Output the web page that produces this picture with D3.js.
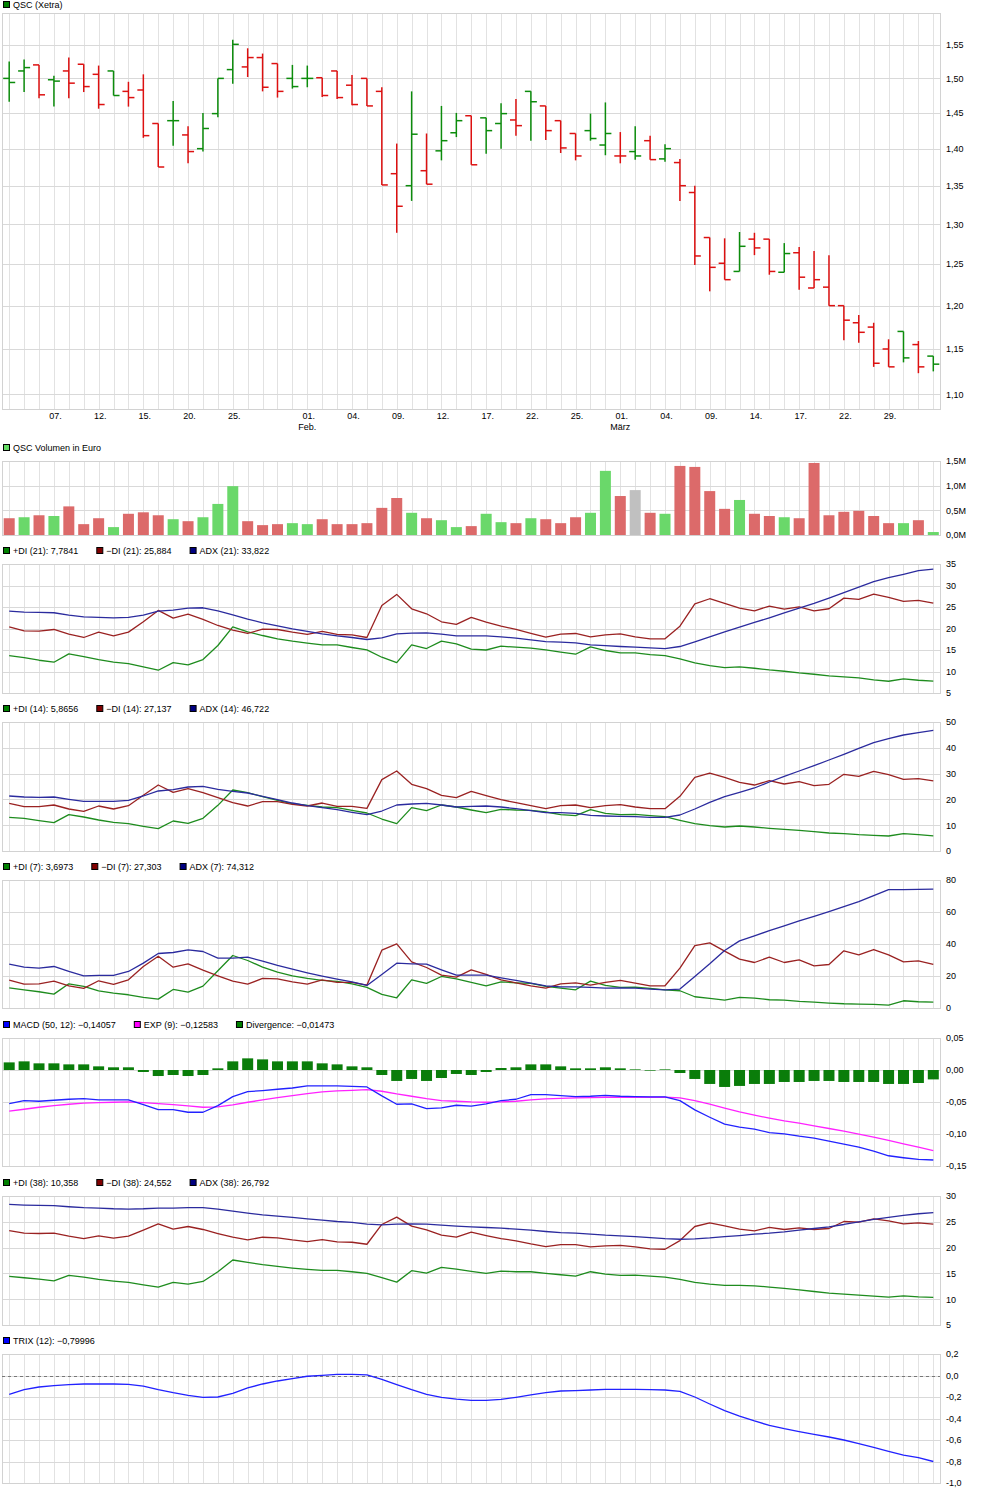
<!DOCTYPE html>
<html><head><meta charset="utf-8">
<script src="https://cdn.jsdelivr.net/npm/d3@7/dist/d3.min.js"></script>
<style>
body{margin:0;background:#fff;}
svg text{font-family:"Liberation Sans",Arial,sans-serif;font-size:9px;fill:#000;}
</style></head><body>
<svg id="c" width="981" height="1493"></svg>
<script>
// ---------- DATA ----------
const tickIndex  = [3,6,9,12,15,20,23,26,29,32,35,38,41,44,47,50,53,56,59];
const tickLabels = ["07.","12.","15.","20.","25.","01.","04.","09.","12.","17.","22.","25.","01.","04.","09.","14.","17.","22.","29."];
const tickMonths = ["","","","","","Feb.","","","","","","","März","","","","","",""];

const open  = [1.500,1.511,1.520,1.498,1.511,1.521,1.506,1.511,1.481,1.483,1.435,1.439,1.419,1.400,1.449,1.513,1.517,1.531,1.522,1.500,1.500,1.501,1.511,1.490,1.500,1.481,1.366,1.350,1.370,1.397,1.422,1.446,1.443,1.435,1.440,1.481,1.460,1.439,1.421,1.425,1.405,1.390,1.396,1.411,1.386,1.381,1.341,1.283,1.251,1.241,1.281,1.281,1.240,1.264,1.221,1.222,1.200,1.180,1.175,1.150,1.170,1.155,1.142];
const high  = [1.525,1.528,1.520,1.504,1.531,1.521,1.519,1.511,1.495,1.506,1.435,1.467,1.431,1.450,1.500,1.558,1.545,1.537,1.522,1.520,1.519,1.501,1.511,1.505,1.500,1.487,1.407,1.481,1.421,1.460,1.450,1.446,1.443,1.464,1.470,1.481,1.460,1.439,1.421,1.449,1.465,1.423,1.431,1.418,1.406,1.386,1.350,1.283,1.282,1.290,1.289,1.281,1.276,1.271,1.266,1.261,1.200,1.189,1.180,1.161,1.170,1.159,1.142];
const low   = [1.466,1.480,1.471,1.459,1.471,1.480,1.456,1.475,1.459,1.415,1.375,1.404,1.380,1.396,1.444,1.492,1.502,1.481,1.472,1.485,1.487,1.473,1.470,1.461,1.460,1.351,1.289,1.330,1.352,1.384,1.416,1.378,1.393,1.400,1.418,1.411,1.412,1.394,1.384,1.411,1.391,1.380,1.385,1.385,1.382,1.330,1.249,1.217,1.231,1.241,1.261,1.237,1.240,1.219,1.221,1.200,1.160,1.157,1.130,1.130,1.135,1.123,1.125];
const close = [1.494,1.516,1.476,1.496,1.493,1.488,1.462,1.475,1.472,1.418,1.375,1.439,1.396,1.428,1.500,1.551,1.531,1.487,1.481,1.488,1.500,1.475,1.472,1.462,1.460,1.351,1.323,1.420,1.352,1.411,1.439,1.378,1.425,1.449,1.432,1.466,1.425,1.401,1.390,1.414,1.421,1.390,1.390,1.385,1.400,1.350,1.260,1.246,1.231,1.272,1.270,1.241,1.263,1.234,1.231,1.200,1.183,1.169,1.134,1.130,1.140,1.130,1.133];
// g = up (green), r = down (red), n = unchanged (grey)
const priceDir = ("ggrgrrrgrr" + "rgrgggrrrg" + "grrrrrrgrg" + "grggrgrrrg" + "grgrgrrrrg" + "rrgrrrrrrr" + "grg").split("");
const volume = [0.34,0.36,0.40,0.385,0.58,0.22,0.34,0.16,0.43,0.46,0.40,0.32,0.28,0.36,0.63,0.99,0.28,0.20,0.22,0.24,0.22,0.32,0.22,0.22,0.24,0.55,0.75,0.45,0.34,0.30,0.16,0.18,0.43,0.26,0.24,0.34,0.32,0.24,0.36,0.45,1.30,0.79,0.91,0.45,0.43,1.40,1.38,0.89,0.53,0.71,0.43,0.385,0.36,0.34,1.46,0.40,0.47,0.49,0.385,0.24,0.24,0.30,0.06];
const volDir = ("rgrgrrrgrr" + "rgrgggrrrg" + "grrrrrrgrg" + "grggrgrrrg" + "grnrgrrrrg" + "rrgrrrrrrr" + "grg").split("");

const plusDI21  = [13.71,13.24,12.62,12.16,14.10,13.48,12.78,12.16,11.85,11.07,10.30,12.08,11.53,12.78,16.04,20.39,19.23,18.37,17.60,17.05,16.59,16.20,16.20,15.58,15.03,13.32,12.08,16.20,15.34,17.05,16.43,15.19,15.00,15.89,15.65,15.45,15.03,14.49,14.02,15.73,14.88,14.33,14.33,13.94,13.71,12.93,12.00,11.38,10.91,11.07,10.76,10.37,10.06,9.67,9.36,8.97,8.74,8.50,8.04,7.73,8.27,7.96,7.78];
const minusDI21 = [20.39,19.46,19.38,19.77,18.68,17.91,19.15,18.29,19.15,21.56,24.20,22.41,23.34,22.10,20.70,19.62,18.84,19.85,19.77,19.15,18.61,19.31,18.61,18.53,17.91,25.37,27.93,24.59,23.42,21.56,20.94,22.57,21.48,20.55,19.77,18.84,17.98,18.68,18.84,18.06,18.53,18.76,18.06,17.60,17.60,20.55,25.75,26.92,25.83,24.74,24.12,25.21,24.51,25.05,24.12,24.59,27.07,26.76,28.01,27.23,26.30,26.53,25.88];
const adx21     = [24.04,23.81,23.73,23.66,23.11,22.72,22.57,22.49,22.57,23.11,24.04,24.28,24.74,24.82,24.12,23.19,22.18,21.32,20.63,19.93,19.31,18.76,18.29,17.91,17.44,17.83,18.76,18.92,18.99,18.68,18.29,18.29,18.29,18.06,17.75,17.36,16.97,16.82,16.66,16.20,16.04,15.81,15.65,15.50,15.34,15.81,16.90,18.06,19.23,20.31,21.40,22.49,23.66,24.74,25.83,27.07,28.32,29.64,30.88,31.81,32.59,33.45,33.82];

const plusDI14  = [13.05,12.66,11.76,10.98,14.08,13.18,12.02,11.11,10.59,9.56,8.66,11.63,10.72,12.66,17.70,23.64,22.61,21.06,19.64,18.35,17.70,17.05,16.80,15.76,14.73,12.40,10.59,16.80,15.63,17.83,17.05,15.89,14.86,16.15,15.89,15.76,15.12,14.08,13.70,16.02,14.60,14.08,14.21,13.70,13.31,11.89,10.59,9.81,9.30,9.69,9.30,8.79,8.40,8.01,7.49,6.98,6.72,6.33,6.07,5.81,6.72,6.33,5.87];
const minusDI14 = [18.48,17.18,17.18,17.83,16.28,15.37,17.44,16.28,17.57,21.58,25.58,22.74,24.16,22.61,20.67,18.73,17.44,19.12,19.12,18.09,17.44,18.60,17.31,17.31,16.54,27.65,31.01,25.84,24.16,21.58,20.67,23.13,21.45,19.90,18.73,17.57,16.41,17.57,17.83,16.80,17.57,17.96,17.05,16.41,16.41,21.19,28.55,30.23,28.55,26.61,25.58,27.26,25.97,26.87,25.32,25.84,29.72,28.94,30.88,29.59,27.78,28.04,27.14];
const adx14     = [21.32,20.93,20.80,20.93,20.03,19.25,19.25,19.25,19.64,21.32,23.26,23.77,24.81,25.06,23.90,23.13,22.48,21.19,19.90,18.60,17.57,16.80,16.02,14.99,14.08,15.50,17.83,18.22,18.48,17.83,17.05,17.31,17.44,17.05,16.41,15.63,14.86,14.86,14.60,13.82,13.57,13.44,13.31,13.05,13.05,13.95,16.28,18.86,21.06,22.74,24.42,26.74,28.94,31.01,33.07,35.27,37.47,39.79,41.99,43.54,44.96,45.87,46.72];

const plusDI7   = [12.64,11.39,10.15,8.69,15.14,13.47,10.77,9.31,8.27,6.61,5.57,11.60,9.94,13.68,23.24,32.81,29.69,25.53,22.41,20.12,18.46,17.21,16.59,15.14,12.85,8.48,6.40,17.63,15.34,19.71,18.25,15.97,13.89,16.38,15.76,15.34,13.47,12.43,11.39,16.80,14.10,12.85,13.06,12.22,11.39,10.77,7.03,5.99,4.95,6.61,6.20,5.16,4.95,4.12,3.70,3.08,2.66,2.45,2.25,1.83,4.53,3.91,3.70];
const minusDI7  = [17.42,14.93,15.14,16.80,13.89,12.22,17.01,14.72,17.63,25.95,32.39,25.53,27.61,23.66,20.12,16.80,14.93,18.46,18.25,16.38,14.93,17.63,15.97,15.97,14.30,36.13,40.08,28.86,25.32,20.54,19.29,23.87,20.96,17.63,15.76,13.89,12.43,15.14,15.76,14.30,15.97,17.21,15.55,13.89,13.89,24.91,39.04,40.71,35.51,30.52,28.44,31.77,28.44,30.10,26.36,27.19,35.72,33.22,36.55,33.22,28.86,29.48,27.30];
const adx7      = [27.40,25.53,24.91,25.95,22.83,20.12,20.33,20.33,22.83,28.02,34.05,34.68,36.34,35.30,31.14,31.14,31.77,29.27,26.57,24.28,22.00,19.92,18.05,16.38,14.10,20.96,28.02,27.61,27.40,23.87,20.54,20.54,20.54,18.88,17.21,15.55,13.89,13.26,13.26,12.85,12.43,12.64,12.43,11.81,11.39,11.81,19.71,27.61,35.93,41.95,45.07,48.40,51.31,54.43,57.34,60.25,63.37,66.49,70.23,73.97,73.97,74.18,74.31];

const macdLine   = [-0.0525,-0.0478,-0.0488,-0.0473,-0.0457,-0.0447,-0.0468,-0.0468,-0.0468,-0.0540,-0.0618,-0.0618,-0.0660,-0.0660,-0.0556,-0.0416,-0.0338,-0.0322,-0.0301,-0.0281,-0.0249,-0.0249,-0.0249,-0.0255,-0.0265,-0.0405,-0.0535,-0.0530,-0.0603,-0.0592,-0.0551,-0.0566,-0.0530,-0.0478,-0.0457,-0.0384,-0.0384,-0.0400,-0.0416,-0.0410,-0.0395,-0.0410,-0.0416,-0.0421,-0.0421,-0.0478,-0.0623,-0.0738,-0.0847,-0.0894,-0.0925,-0.0977,-0.0997,-0.1034,-0.1065,-0.1112,-0.1158,-0.1205,-0.1268,-0.1340,-0.1371,-0.1397,-0.1406];
const signalLine = [-0.0644,-0.0613,-0.0582,-0.0556,-0.0535,-0.0519,-0.0509,-0.0504,-0.0499,-0.0509,-0.0525,-0.0540,-0.0561,-0.0582,-0.0577,-0.0545,-0.0504,-0.0468,-0.0431,-0.0400,-0.0369,-0.0343,-0.0327,-0.0317,-0.0306,-0.0332,-0.0374,-0.0410,-0.0447,-0.0478,-0.0488,-0.0499,-0.0504,-0.0499,-0.0488,-0.0468,-0.0452,-0.0442,-0.0436,-0.0431,-0.0426,-0.0426,-0.0426,-0.0426,-0.0426,-0.0436,-0.0478,-0.0535,-0.0597,-0.0655,-0.0706,-0.0753,-0.0795,-0.0831,-0.0873,-0.0914,-0.0956,-0.1003,-0.1049,-0.1101,-0.1155,-0.1205,-0.1258];
const divergence = [0.0119,0.0135,0.0104,0.0104,0.0088,0.0088,0.0057,0.0042,0.0042,-0.0031,-0.0094,-0.0078,-0.0094,-0.0078,0.0026,0.0135,0.0182,0.0166,0.0135,0.0135,0.0135,0.0104,0.0088,0.0057,0.0042,-0.0078,-0.0171,-0.0140,-0.0171,-0.0125,-0.0062,-0.0078,-0.0031,0.0031,0.0042,0.0088,0.0088,0.0057,0.0026,0.0026,0.0042,0.0026,0.0010,-0.0010,0.0010,-0.0047,-0.0140,-0.0218,-0.0265,-0.0249,-0.0218,-0.0218,-0.0187,-0.0187,-0.0171,-0.0171,-0.0187,-0.0187,-0.0187,-0.0218,-0.0218,-0.0203,-0.0147];

const plusDI38  = [14.42,14.16,13.90,13.57,14.61,14.29,13.83,13.51,13.25,12.79,12.34,13.25,12.92,13.44,15.32,17.60,17.14,16.69,16.36,16.04,15.78,15.58,15.58,15.32,15.00,14.16,13.31,15.52,15.06,16.17,15.84,15.39,15.00,15.45,15.32,15.32,15.00,14.74,14.48,15.32,14.87,14.61,14.68,14.48,14.29,13.83,13.25,12.92,12.66,12.66,12.60,12.34,12.08,11.82,11.49,11.17,10.97,10.78,10.58,10.39,10.65,10.45,10.36];
const minusDI38 = [23.31,22.79,22.73,22.79,22.21,21.75,22.27,21.82,22.21,23.38,24.61,23.57,24.09,23.51,22.73,22.01,21.49,22.01,21.88,21.49,21.17,21.56,21.10,21.04,20.65,24.48,25.91,24.16,23.44,22.40,22.01,22.99,22.34,21.75,21.30,20.71,20.19,20.58,20.58,20.13,20.32,20.45,20.13,19.74,19.68,21.36,24.09,24.81,24.22,23.57,23.25,23.90,23.51,23.83,23.51,23.70,25.06,24.94,25.58,25.19,24.61,24.81,24.55];
const adx38     = [28.38,28.25,28.18,28.12,27.92,27.73,27.66,27.53,27.47,27.53,27.66,27.66,27.73,27.73,27.47,27.08,26.69,26.36,26.10,25.84,25.58,25.32,25.06,24.87,24.55,24.42,24.55,24.61,24.55,24.35,24.16,24.03,23.90,23.77,23.57,23.38,23.12,22.92,22.79,22.60,22.40,22.27,22.14,21.95,21.75,21.62,21.69,21.88,22.14,22.34,22.60,22.79,23.05,23.38,23.70,24.03,24.48,25.00,25.45,25.84,26.23,26.56,26.79];

const trix = [-0.175,-0.132,-0.107,-0.095,-0.085,-0.079,-0.079,-0.079,-0.082,-0.098,-0.132,-0.160,-0.184,-0.203,-0.200,-0.166,-0.116,-0.079,-0.051,-0.029,-0.007,0.002,0.011,0.011,0.005,-0.036,-0.085,-0.132,-0.175,-0.203,-0.219,-0.231,-0.231,-0.222,-0.203,-0.181,-0.160,-0.144,-0.141,-0.135,-0.129,-0.129,-0.129,-0.132,-0.135,-0.147,-0.200,-0.265,-0.327,-0.377,-0.423,-0.464,-0.495,-0.522,-0.547,-0.572,-0.600,-0.634,-0.668,-0.705,-0.740,-0.764,-0.800];

const priceTicks = [1.10,1.15,1.20,1.25,1.30,1.35,1.40,1.45,1.50,1.55];
const volTicks = [0,0.5,1.0,1.5];
const di21Ticks = [5,10,15,20,25,30,35];
const di14Ticks = [0,10,20,30,40,50];
const di7Ticks = [0,20,40,60,80];
const macdTicks = [-0.15,-0.10,-0.05,0,0.05];
const di38Ticks = [5,10,15,20,25,30];
const trixTicks = [-1.0,-0.8,-0.6,-0.4,-0.2,0,0.2];

// ---------- DRAWING ----------
const svg = d3.select("#c");
const N = close.length;
const L = 2, R = 940;
const x = d3.scaleLinear().domain([0, N - 1]).range([9.2, 933.3]);
const cx = i => Math.round(x(i)) + 0.5;
const crisp = v => Math.round(v) + 0.5;
const comma = (v, d) => (v < 0 ? "-" : "") + Math.abs(v).toFixed(d).replace(".", ",");

const C = {
  gridV: "#e2e2e2", gridH: "#d9d9d9", border: "#d2d2d2",
  up: "#0c8c0c", down: "#dd1010",
  volUp: "#6ad86a", volDown: "#dc6a6a", volFlat: "#c0c0c0",
  pdi: "#1e8c1e", mdi: "#9a2222", adx: "#2b2b9e",
  pdiL: "#008000", mdiL: "#800000", adxL: "#000080"
};

function panel(top, bottom, y, ticks, fmt) {
  const g = svg.append("g");
  g.append("g").selectAll("line").data(d3.range(N)).join("line")
    .attr("x1", cx).attr("x2", cx).attr("y1", top).attr("y2", bottom)
    .attr("stroke", C.gridV).attr("stroke-width", 1);
  g.append("g").selectAll("line").data(ticks).join("line")
    .attr("x1", L).attr("x2", R).attr("y1", d => crisp(y(d))).attr("y2", d => crisp(y(d)))
    .attr("stroke", C.gridH).attr("stroke-width", 1);
  g.append("rect").attr("x", L + 0.5).attr("y", crisp(top)).attr("width", R - L)
    .attr("height", Math.round(bottom) - Math.round(top))
    .attr("fill", "none").attr("stroke", C.border);
  const ax = d3.axisRight(y).tickValues(ticks).tickSize(0).tickPadding(6).tickFormat(fmt);
  svg.append("g").attr("transform", `translate(${R},0)`).call(ax)
    .call(a => a.select(".domain").remove());
  return g;
}

function legend(yc, items) {
  let xx = 3;
  items.forEach(it => {
    svg.append("rect").attr("x", xx + 0.5).attr("y", Math.round(yc) - 3.5)
      .attr("width", 6).attr("height", 6).attr("fill", it.color).attr("stroke", "#000");
    const t = svg.append("text").attr("x", xx + 10).attr("y", yc).attr("dy", "0.35em").text(it.text);
    xx = xx + 10 + t.node().getComputedTextLength() + 18;
  });
}

function lineSeries(data, y, color, w) {
  svg.append("path").datum(data)
    .attr("d", d3.line().x((d, i) => x(i)).y(d => y(d)))
    .attr("fill", "none").attr("stroke", color).attr("stroke-width", w || 1.3)
    .attr("stroke-linejoin", "round");
}

// ---- Price panel ----
const yP = d3.scaleLog().domain([1.0842, 1.599]).range([409, 13.3]);
panel(13, 409, yP, priceTicks, d => comma(d, 2));
legend(5, [{ color: "#008000", text: "QSC (Xetra)" }]);
const xa = d3.axisBottom(x).tickValues(tickIndex).tickSize(0).tickPadding(4)
  .tickFormat((d, i) => tickLabels[i]);
svg.append("g").attr("transform", "translate(1,409)").call(xa)
  .call(a => a.select(".domain").remove());
svg.append("g").selectAll("text").data(tickIndex.filter((d, i) => tickMonths[i]))
  .join("text").attr("x", d => x(d)).attr("y", 430).attr("text-anchor", "middle")
  .text(d => tickMonths[tickIndex.indexOf(d)]);

const bars = svg.append("g").selectAll("g").data(d3.range(N)).join("g")
  .attr("stroke", i => priceDir[i] === "r" ? C.down : C.up).attr("stroke-width", 1.5);
bars.append("line").attr("x1", i => x(i)).attr("x2", i => x(i))
  .attr("y1", i => yP(high[i])).attr("y2", i => yP(low[i]) );
bars.append("line").attr("x1", i => x(i) - 6).attr("x2", i => x(i))
  .attr("y1", i => yP(open[i])).attr("y2", i => yP(open[i]));
bars.append("line").attr("x1", i => x(i)).attr("x2", i => x(i) + 6)
  .attr("y1", i => yP(close[i])).attr("y2", i => yP(close[i]));

// ---- Volume panel ----
const yV = d3.scaleLinear().domain([0, 1.5]).range([535, 461]);
panel(461, 535, yV, volTicks, d => comma(d, 1) + "M");
legend(448, [{ color: "#66dd66", text: "QSC Volumen in Euro" }]);
svg.append("g").selectAll("rect").data(volume).join("rect")
  .attr("x", (d, i) => x(i) - 5.5).attr("width", 11)
  .attr("y", d => yV(d)).attr("height", d => yV(0) - yV(d))
  .attr("fill", (d, i) => volDir[i] === "g" ? C.volUp : volDir[i] === "r" ? C.volDown : C.volFlat);

// ---- DMI panels ----
function dmiPanel(top, bottom, dom, ticks, lc, p, m, a, labels) {
  const y = d3.scaleLinear().domain(dom).range([bottom, top]);
  panel(top, bottom, y, ticks, d => String(d));
  legend(lc, [
    { color: C.pdiL, text: labels[0] },
    { color: C.mdiL, text: labels[1] },
    { color: C.adxL, text: labels[2] }
  ]);
  lineSeries(p, y, C.pdi);
  lineSeries(m, y, C.mdi);
  lineSeries(a, y, C.adx);
}
dmiPanel(564, 693, [5, 35], di21Ticks, 551, plusDI21, minusDI21, adx21,
  ["+DI (21): 7,7841", "\u2212DI (21): 25,884", "ADX (21): 33,822"]);
dmiPanel(722, 851, [0, 50], di14Ticks, 709, plusDI14, minusDI14, adx14,
  ["+DI (14): 5,8656", "\u2212DI (14): 27,137", "ADX (14): 46,722"]);
dmiPanel(880, 1008, [0, 80], di7Ticks, 867, plusDI7, minusDI7, adx7,
  ["+DI (7): 3,6973", "\u2212DI (7): 27,303", "ADX (7): 74,312"]);

// ---- MACD panel ----
const yM = d3.scaleLinear().domain([-0.15, 0.05]).range([1166, 1038]);
panel(1038, 1166, yM, macdTicks, d => comma(d, 2));
legend(1025, [
  { color: "#0000ff", text: "MACD (50, 12): \u22120,14057" },
  { color: "#ff00ff", text: "EXP (9): \u22120,12583" },
  { color: "#008000", text: "Divergence: \u22120,01473" }
]);
svg.append("g").selectAll("rect").data(divergence).join("rect")
  .attr("x", (d, i) => x(i) - 5.5).attr("width", 11)
  .attr("y", d => Math.min(yM(d), yM(0))).attr("height", d => Math.abs(yM(d) - yM(0)))
  .attr("fill", "#0a7d0a");
lineSeries(signalLine, yM, "#ff22ff");
lineSeries(macdLine, yM, "#2222ff");

// ---- DMI 38 ----
dmiPanel(1196, 1325, [5, 30], di38Ticks, 1183, plusDI38, minusDI38, adx38,
  ["+DI (38): 10,358", "\u2212DI (38): 24,552", "ADX (38): 26,792"]);

// ---- TRIX ----
const yT = d3.scaleLinear().domain([-1.0, 0.2]).range([1483, 1354]);
panel(1354, 1483, yT, trixTicks, d => comma(d, 1));
legend(1341, [{ color: "#0000ff", text: "TRIX (12): \u22120,79996" }]);
svg.append("line").attr("x1", L).attr("x2", R).attr("y1", crisp(yT(0))).attr("y2", crisp(yT(0)))
  .attr("stroke", "#777").attr("stroke-dasharray", "3,3");
lineSeries(trix, yT, "#2222ff");
</script>
</body></html>
